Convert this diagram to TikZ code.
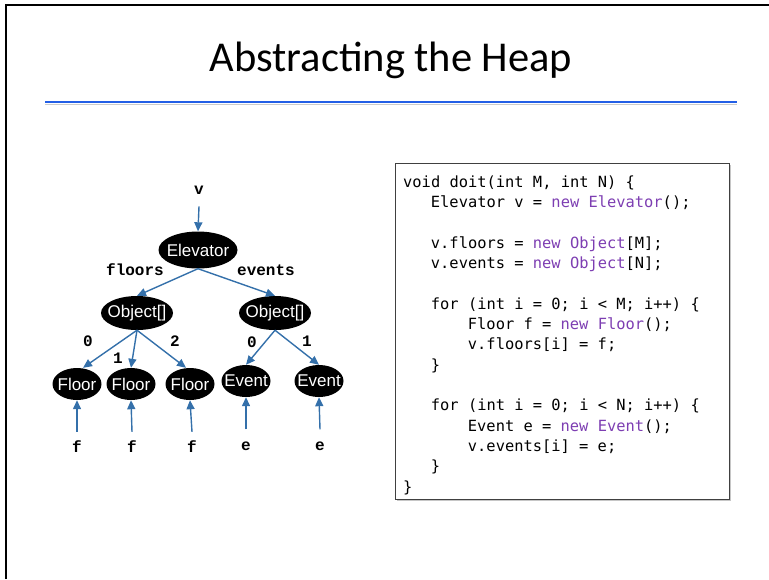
\documentclass[tikz,border=0pt]{standalone}
\usepackage{fontspec}
\setmainfont{Carlito}
\newfontfamily\codefont{DejaVu Sans Mono}
\newfontfamily\labfont{Liberation Mono}
\newfontfamily\objfont{Liberation Sans}
\usetikzlibrary{shapes.geometric,arrows.meta}
\definecolor{kw}{RGB}{125,62,178}
\definecolor{edge}{RGB}{52,112,170}
\definecolor{rule}{RGB}{35,95,230}
% object names may spill over the ellipse edge, so they take no width
\newcommand{\objname}[1]{\makebox[0pt][c]{#1}}
\tikzset{
  obj/.style={ellipse, fill=black, inner sep=0pt, text=white,
    font=\objfont\fontsize{17}{17}\selectfont},
  lab/.style={font=\labfont\bfseries\fontsize{16}{16}\selectfont, inner sep=0pt},
  ptr/.style={draw=edge, line width=1.4pt, -{Triangle[length=9pt,width=8pt]}},
  codeline/.style={anchor=base west, inner sep=0pt,
    font=\codefont\fontsize{15.4}{16}\selectfont},
}
\newcommand{\kwd}[1]{\textcolor{kw}{#1}}
\begin{document}
\begin{tikzpicture}[x=1pt,y=-1pt]
\useasboundingbox (0,0) rectangle (769,579);
% slide frame
\draw[line width=2.2pt] (6,579) -- (6,5) -- (769,5);
% title and rule
\node[font=\fontsize{42.5}{44}\selectfont] (title) at (391,60) {Abstracting the Heap};
\draw[gray!40, line width=1.5pt] (45,104.5) -- (737,104.5);
\draw[rule, line width=2.6pt] (45,102) -- (737,102);

% heap graph
\node[lab] (v) at (199,190) {v};
\node[obj, minimum width=79pt, minimum height=37pt] (elev) at (198,250) {\objname{Elevator}};
\node[obj, minimum width=72pt, minimum height=34pt] (objL) at (137,313) {\objname{Object[]}};
\node[obj, minimum width=72pt, minimum height=34pt] (objR) at (275,313) {\objname{Object[]}};
\node[obj, minimum width=49pt, minimum height=32pt] (fl1) at (77,384) {\objname{Floor}};
\node[obj, minimum width=49pt, minimum height=32pt] (fl2) at (131,384) {\objname{Floor}};
\node[obj, minimum width=49pt, minimum height=32pt] (fl3) at (190,384) {\objname{Floor}};
\node[obj, minimum width=49pt, minimum height=32pt] (ev1) at (246,381) {\objname{Event}};
\node[obj, minimum width=49pt, minimum height=32pt] (ev2) at (319,381) {\objname{Event}};

\node[lab] (lfl) at (135,270) {floors};
\node[lab] (lev) at (266,270) {events};
\node[lab] (i0) at (88,341) {0};
\node[lab] (i1) at (118,358) {1};
\node[lab] (i2) at (175,341) {2};
\node[lab] (j0) at (252,342) {0};
\node[lab] (j1) at (307,341) {1};

\node[lab] (f1) at (77,447) {f};
\node[lab] (f2) at (132,447) {f};
\node[lab] (f3) at (192,447) {f};
\node[lab] (e1) at (246,446) {e};
\node[lab] (e2) at (320,446) {e};

\draw[ptr] ([yshift=-12pt]v.south) -- (elev.north);
\draw[ptr] (elev.south) -- (objL.north);
\draw[ptr] (elev.south) -- (objR.north);
\draw[ptr] (objL.south) -- ([xshift=6pt]fl1.north);
\draw[ptr] (objL.south) -- (fl2.north);
\draw[ptr] (objL.south) -- ([xshift=-4pt]fl3.north);
\draw[ptr] (objR.south) -- (ev1.north);
\draw[ptr] (objR.south) -- (ev2.north);
\draw[ptr] ([yshift=9pt]f1.north) -- (fl1.south);
\draw[ptr] ([yshift=9pt]f2.north) -- (fl2.south);
\draw[ptr] ([yshift=9pt]f3.north) -- (fl3.south);
\draw[ptr] ([yshift=12pt]e1.north) -- (ev1.south);
\draw[ptr] ([yshift=12pt]e2.north) -- (ev2.south);

% code listing
\draw[gray!45, line width=1.5pt] (730.5,165) -- (730.5,500.5) -- (397,500.5);
\draw[black!75, line width=1pt] (395,163) rectangle (729,499);
\def\cw{9.25}
\def\lh{20.35}
\node[codeline] (c1)  at (403,187) {void doit(int M, int N) \{};
\node[codeline] (c2)  at (403+3*\cw,187+1*\lh) {Elevator v = \kwd{new Elevator}();};
\node[codeline] (c4)  at (403+3*\cw,187+3*\lh) {v.floors = \kwd{new Object}[M];};
\node[codeline] (c5)  at (403+3*\cw,187+4*\lh) {v.events = \kwd{new Object}[N];};
\node[codeline] (c7)  at (403+3*\cw,187+6*\lh) {for (int i = 0; i < M; i++) \{};
\node[codeline] (c8)  at (403+7*\cw,187+7*\lh) {Floor f = \kwd{new Floor}();};
\node[codeline] (c9)  at (403+7*\cw,187+8*\lh) {v.floors[i] = f;};
\node[codeline] (c10) at (403+3*\cw,187+9*\lh) {\}};
\node[codeline] (c12) at (403+3*\cw,187+11*\lh) {for (int i = 0; i < N; i++) \{};
\node[codeline] (c13) at (403+7*\cw,187+12*\lh) {Event e = \kwd{new Event}();};
\node[codeline] (c14) at (403+7*\cw,187+13*\lh) {v.events[i] = e;};
\node[codeline] (c15) at (403+3*\cw,187+14*\lh) {\}};
\node[codeline] (c16) at (403,187+15*\lh) {\}};
\end{tikzpicture}
\end{document}
